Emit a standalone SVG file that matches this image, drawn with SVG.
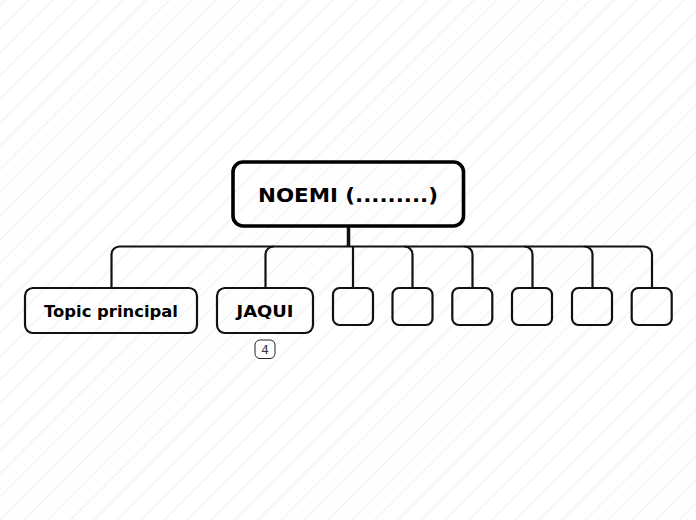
<svg xmlns="http://www.w3.org/2000/svg" width="696" height="520" viewBox="0 0 696 520">
<style>
.n{fill:none;stroke:#111;stroke-width:2.200}
.c{fill:none;stroke:#111;stroke-width:2.200}
.t{font-family:"DejaVu Sans",sans-serif;font-weight:bold;fill:#000;text-anchor:middle}
</style>
<defs>
<pattern id="h" patternUnits="userSpaceOnUse" width="23.4" height="23.4">
<path d="M-2 7.600L7.600 -2M-2 31L31 -2" stroke="#eeeeee" stroke-width="1" fill="none"/>
</pattern>
</defs>
<rect id="background" width="696" height="520" fill="#fff"/>
<rect width="696" height="520" fill="url(#h)"/>
<g id="connectors">
<path class="c" d="M111.500 288V254.500a8 8 0 0 1 8-8H644a8 8 0 0 1 8 8V288"/>
<path class="c" d="M265.500 288V254.500a8 8 0 0 1 8-8"/>
<path class="c" d="M353 288V246.500"/>
<path class="c" d="M404.500 246.500a8 8 0 0 1 8 8V288"/>
<path class="c" d="M464.500 246.500a8 8 0 0 1 8 8V288"/>
<path class="c" d="M524.500 246.500a8 8 0 0 1 8 8V288"/>
<path class="c" d="M584.500 246.500a8 8 0 0 1 8 8V288"/>
<path d="M348.500 226V246" fill="none" stroke="#111" stroke-width="3.500"/>
</g>
<g id="root"><rect x="233" y="162" width="230.500" height="64" rx="10" fill="none" stroke="#000" stroke-width="3.600"/><text class="t" x="348" y="202" font-size="20" textLength="180" lengthAdjust="spacingAndGlyphs">NOEMI (.........)</text></g>
<g id="topic"><rect class="n" x="25" y="288" width="172" height="45" rx="8"/><text class="t" x="111" y="317" font-size="16" textLength="134" lengthAdjust="spacingAndGlyphs">Topic principal</text></g>
<g id="jaqui"><rect class="n" x="217" y="288" width="96" height="45" rx="8"/><text class="t" x="265" y="317" font-size="16" textLength="57" lengthAdjust="spacingAndGlyphs">JAQUI</text></g>
<g id="badge"><rect x="255" y="340" width="20" height="18.500" rx="5" fill="none" stroke="#222" stroke-width="1"/><text x="265" y="353.500" font-size="12" font-family="DejaVu Sans,sans-serif" fill="#333" text-anchor="middle">4</text></g>
<g id="n1"><rect class="n" x="333" y="288" width="40" height="37" rx="6.500"/></g>
<g id="n2"><rect class="n" x="392.500" y="288" width="40" height="37" rx="6.500"/></g>
<g id="n3"><rect class="n" x="452.300" y="288" width="40" height="37" rx="6.500"/></g>
<g id="n4"><rect class="n" x="512" y="288" width="40" height="37" rx="6.500"/></g>
<g id="n5"><rect class="n" x="572" y="288" width="40" height="37" rx="6.500"/></g>
<g id="n6"><rect class="n" x="631.700" y="288" width="40" height="37" rx="6.500"/></g>
</svg>
